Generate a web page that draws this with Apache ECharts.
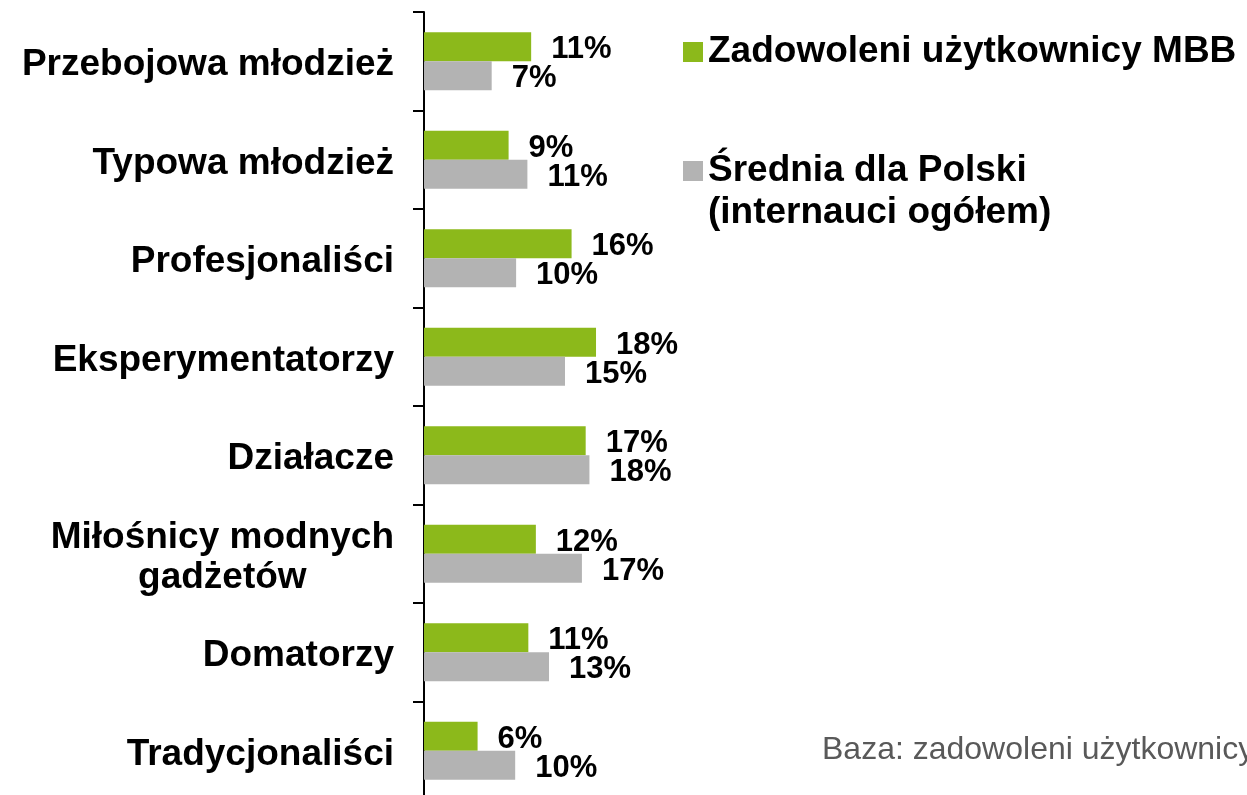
<!DOCTYPE html>
<html>
<head>
<meta charset="utf-8">
<script src="https://cdn.jsdelivr.net/npm/echarts@6/dist/echarts.min.js"></script>
<style>
  html, body { margin: 0; padding: 0; background: #fff; }
  #chart { width: 1247px; height: 795px; }
</style>
</head>
<body>
<div id="chart"></div>
<script>
// kategorie od gory do dolu
var categories = [
  'Przebojowa młodzież',
  'Typowa młodzież',
  'Profesjonaliści',
  'Eksperymentatorzy',
  'Działacze',
  'Miłośnicy modnych\ngadżetów',
  'Domatorzy',
  'Tradycjonaliści'
]
var seriesNames = ['Zadowoleni użytkownicy MBB', 'Średnia dla Polski\n(internauci ogółem)']
var mbbValues = [11.4, 9.0, 15.7, 18.3, 17.2, 11.9, 11.1, 5.7]
var polskaValues = [7.2, 11.0, 9.8, 15.0, 17.6, 16.8, 13.3, 9.7]
var footnote = 'Baza: zadowoleni użytkownicy'

var font = '"Liberation Sans", Arial, sans-serif'
var green = '#8cb91b'
var gray = '#b3b3b3'

var chart = echarts.init(document.getElementById('chart'))

function barLabel() {
  return {
    show: true,
    position: 'right',
    distance: 20,
    offset: [0, 3],
    formatter: function (p) { return Math.round(p.value) + '%' },
    fontFamily: font,
    fontSize: 31,
    fontWeight: 'bold',
    color: '#000'
  }
}

var legendText = { fontSize: 37, fontWeight: 'bold', color: '#000', fontFamily: font, lineHeight: 42 }

var option = {
  animation: false,
  textStyle: { fontFamily: font },
  // os schodzi ponizej dolnej krawedzi obrazka
  grid: { left: 424, top: 12, height: 788, width: 188, outerBoundsMode: 'none', containLabel: false },
  legend: [
    {
      data: [seriesNames[0]],
      left: 683, top: 31, padding: 0,
      itemWidth: 20, itemHeight: 20,
      icon: 'rect',
      textStyle: legendText
    },
    {
      data: [seriesNames[1]],
      left: 683, top: 108, padding: 0,
      itemWidth: 20, itemHeight: 20,
      icon: 'rect',
      // pusta linia nad tekstem, zeby kwadrat stal przy pierwszej linii
      formatter: function (name) {
        return '{e| }\n' + name.split('\n').map(function (s) { return '{a|' + s + '}' }).join('\n')
      },
      textStyle: {
        fontSize: 37, fontWeight: 'bold', color: '#000', fontFamily: font, lineHeight: 42,
        rich: {
          e: { fontSize: 37, lineHeight: 42 },
          a: legendText
        }
      }
    }
  ],
  xAxis: {
    type: 'value', min: 0, max: 20,
    show: false
  },
  yAxis: {
    type: 'category',
    inverse: true,
    data: categories,
    axisLine: { show: true, lineStyle: { color: '#000', width: 2 } },
    axisTick: { show: true, interval: 0, length: 11, lineStyle: { color: '#000', width: 2 } },
    axisLabel: {
      margin: 30,
      interval: 0,
      padding: [8, 0, 0, 0],
      formatter: function (v) {
        return v.split('\n').map(function (s) { return '{c|' + s + '}' }).join('\n')
      },
      rich: {
        c: { align: 'center', fontSize: 37, fontWeight: 'bold', color: '#000', lineHeight: 40, fontFamily: font }
      }
    },
    splitLine: { show: false }
  },
  series: [
    {
      name: seriesNames[0], type: 'bar', data: mbbValues,
      barWidth: 29, barGap: '0%',
      itemStyle: { color: green },
      label: barLabel()
    },
    {
      name: seriesNames[1], type: 'bar', data: polskaValues,
      barWidth: 29,
      itemStyle: { color: gray },
      label: barLabel()
    }
  ],
  graphic: [
    {
      type: 'text', left: 822, top: 734,
      style: { text: footnote, fontFamily: font, fontSize: 32, fill: '#595959' }
    }
  ]
}

chart.setOption(option)
</script>
</body>
</html>
